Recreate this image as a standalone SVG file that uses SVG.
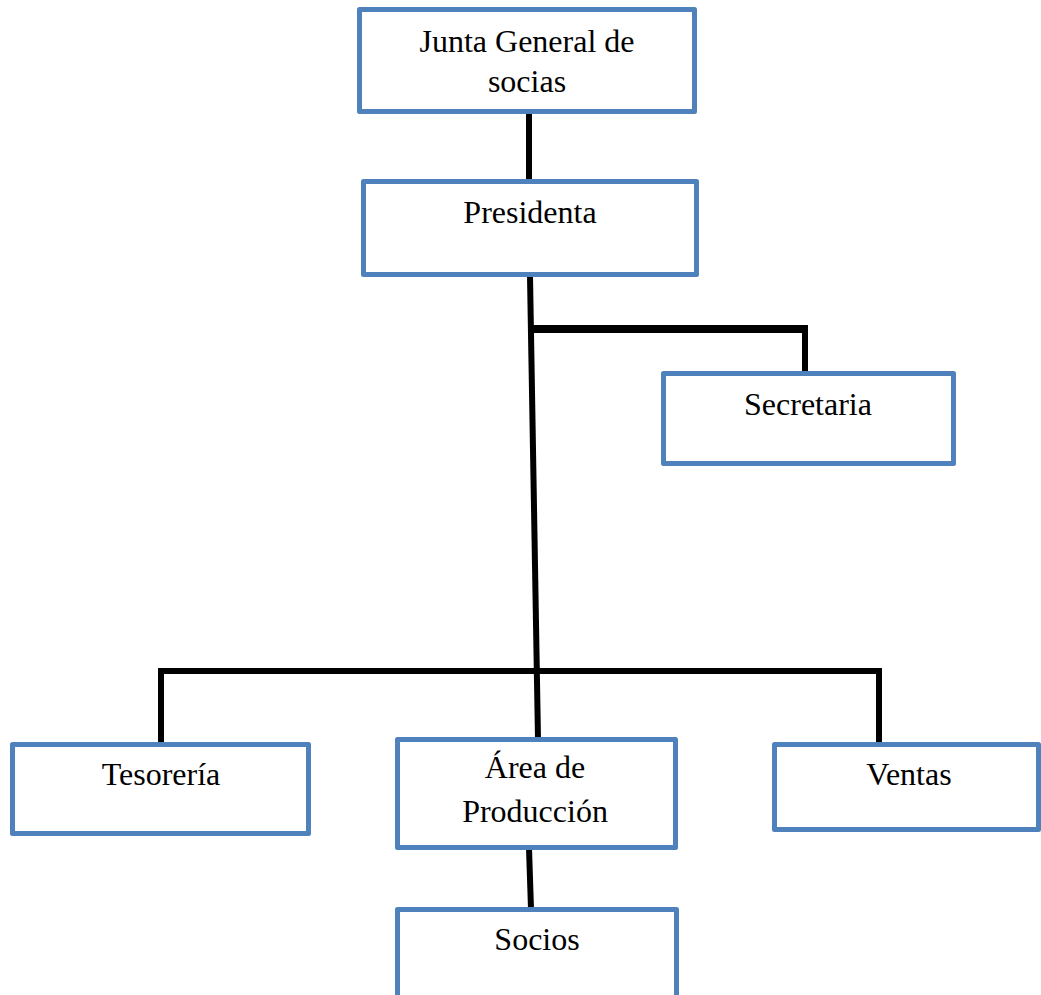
<svg xmlns="http://www.w3.org/2000/svg" width="1041" height="995" viewBox="0 0 1041 995">
<style>
.box{fill:#fff;stroke:#4F81BD;stroke-width:5;stroke-linejoin:round}
.lbl{font-family:"Liberation Serif","Times New Roman",serif;font-size:32px;fill:#000;text-anchor:middle}
.con{fill:none;stroke:#000;stroke-width:6;stroke-linecap:butt;stroke-linejoin:miter}
</style>
<rect width="1041" height="995" fill="#fff"/>
<g id="connectors">
<line class="con" x1="529" y1="112" x2="529" y2="180"/>
<line class="con" x1="530" y1="276" x2="538" y2="739"/>
<line class="con" x1="531" y1="329" x2="808" y2="329" style="stroke-width:8"/>
<line class="con" x1="805" y1="325" x2="805" y2="376"/>
<polyline class="con" points="161,746 161,671 879,671 879,746"/>
<line class="con" x1="529" y1="848" x2="531" y2="909"/>
</g>
<g id="junta">
<rect class="box" x="359.5" y="9.5" width="335" height="102"/>
<text class="lbl" x="527" y="52">Junta General de</text>
<text class="lbl" x="527" y="92">socias</text>
</g>
<g id="presidenta">
<rect class="box" x="363.5" y="181.5" width="333" height="93"/>
<text class="lbl" x="530" y="223">Presidenta</text>
</g>
<g id="secretaria">
<rect class="box" x="663.5" y="373.5" width="290" height="90"/>
<text class="lbl" x="808" y="415">Secretaria</text>
</g>
<g id="tesoreria">
<rect class="box" x="12.5" y="744.5" width="296" height="89"/>
<text class="lbl" x="161" y="785">Tesorería</text>
</g>
<g id="produccion">
<rect class="box" x="397.5" y="739.5" width="278" height="108"/>
<text class="lbl" x="535" y="778">Área de</text>
<text class="lbl" x="535" y="822">Producción</text>
</g>
<g id="ventas">
<rect class="box" x="774.5" y="744.5" width="264" height="85"/>
<text class="lbl" x="909" y="785">Ventas</text>
</g>
<g id="socios">
<rect class="box" x="397.5" y="909.5" width="279" height="90"/>
<text class="lbl" x="537" y="950">Socios</text>
</g>
</svg>
